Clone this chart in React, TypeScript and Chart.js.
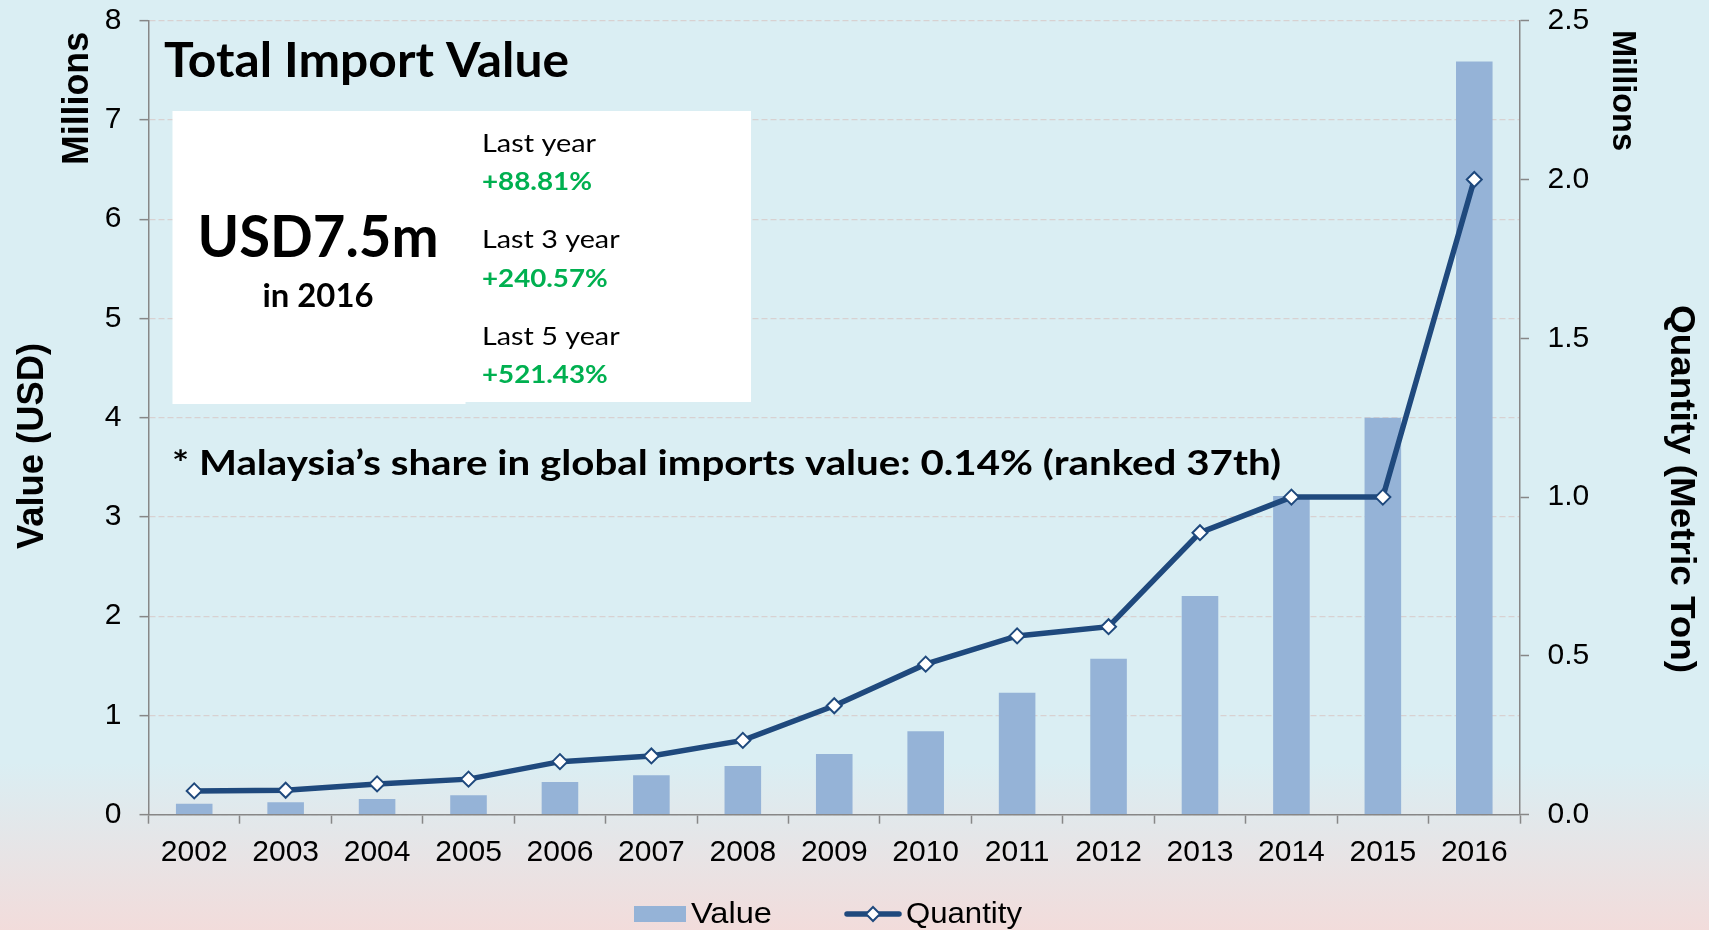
import React, { useEffect, useRef } from 'react';
import { Chart, registerables } from 'chart.js';

Chart.register(...registerables);

// ---------- data ----------
const years = ['2002', '2003', '2004', '2005', '2006', '2007', '2008', '2009', '2010', '2011', '2012', '2013', '2014', '2015', '2016'];
const valueUSDMillions = [0.11, 0.125, 0.158, 0.196, 0.33, 0.397, 0.49, 0.612, 0.84, 1.228, 1.571, 2.204, 3.21, 4.0, 7.59];
const quantityMillionTon = [0.075, 0.077, 0.097, 0.112, 0.167, 0.185, 0.234, 0.343, 0.474, 0.563, 0.592, 0.888, 1.0, 1.0, 2.0];
const seriesNames = ['Value', 'Quantity'];
const leftAxisMax = 8;
const rightAxisMax = 2.5;
const rightAxisStep = 0.5;

const titleText = 'Total Import Value';
const headlineText = 'USD7.5m';
const headlineSub = 'in 2016';
const changeLabels = ['Last year', 'Last 3 year', 'Last 5 year'];
const changeValues = ['+88.81%', '+240.57%', '+521.43%'];
const noteText = '* Malaysia\u2019s share in global imports value: 0.14% (ranked 37th)';
const leftAxisTitle = 'Value (USD)';
const rightAxisTitle = 'Quantity (Metric Ton)';
const unitsLabel = 'Millions';

// ---------- styles ----------
const BAR_COLOR = '#95B3D7';
const LINE_COLOR = '#1F497D';
const AXIS_COLOR = '#878787';
const GRID_COLOR = '#D8D1D1';
const GREEN = '#00B050';
const ARIAL = '"Liberation Sans", Arial, sans-serif';
const CALIBRI = 'Lato, "Open Sans", sans-serif';

function fitText(
  ctx: CanvasRenderingContext2D,
  text: string,
  x: number,
  y: number,
  font: string,
  color: string,
  width: number,
  align: 'left' | 'center' = 'left',
  rotation = 0
) {
  ctx.save();
  ctx.font = font;
  ctx.fillStyle = color;
  ctx.textBaseline = 'alphabetic';
  ctx.textAlign = 'left';
  const w = ctx.measureText(text).width;
  const sx = width / w;
  ctx.translate(x, y);
  if (rotation) ctx.rotate(rotation);
  ctx.scale(sx, 1);
  ctx.fillText(text, align === 'center' ? -w / 2 : 0, 0);
  ctx.restore();
}

const annotationPlugin = {
  id: 'annotations',
  afterDraw(chart: any) {
    const ctx: CanvasRenderingContext2D = chart.ctx;
    // white info box
    ctx.save();
    ctx.fillStyle = '#FFFFFF';
    ctx.fillRect(172.5, 111, 293, 293);
    ctx.fillRect(465, 111, 286, 291);
    ctx.restore();

    fitText(ctx, titleText, 164, 77, `bold 47px ${CALIBRI}`, '#000', 405);
    fitText(ctx, headlineText, 318, 256.5, `bold 58px ${CALIBRI}`, '#000', 241, 'center');
    fitText(ctx, headlineSub, 318, 307, `bold 32px ${CALIBRI}`, '#000', 111, 'center');

    const labelW = [114, 137.6, 137.6];
    const valW = [110, 125.7, 125.7];
    for (let i = 0; i < changeLabels.length; i++) {
      const base = 151.7 + i * 96.6;
      fitText(ctx, changeLabels[i], 482, base, `25px ${CALIBRI}`, '#000', labelW[i]);
      fitText(ctx, changeValues[i], 482, base + 38.3, `bold 25px ${CALIBRI}`, GREEN, valW[i]);
    }

    fitText(ctx, noteText, 172, 475, `bold 35px ${CALIBRI}`, '#000', 1109);

    // axis titles
    fitText(ctx, unitsLabel, 88, 98.5, `bold 36px ${ARIAL}`, '#000', 133, 'center', -Math.PI / 2);
    fitText(ctx, leftAxisTitle, 42.7, 446, `bold 36px ${ARIAL}`, '#000', 206, 'center', -Math.PI / 2);
    fitText(ctx, unitsLabel, 1613, 90.5, `bold 33px ${ARIAL}`, '#000', 121, 'center', Math.PI / 2);
    fitText(ctx, rightAxisTitle, 1671, 489, `bold 35px ${ARIAL}`, '#000', 368, 'center', Math.PI / 2);

    // legend
    ctx.save();
    ctx.fillStyle = BAR_COLOR;
    ctx.fillRect(634, 906, 52, 16);
    ctx.restore();
    fitText(ctx, seriesNames[0], 691, 923, `30px ${ARIAL}`, '#000', 81);

    ctx.save();
    ctx.strokeStyle = LINE_COLOR;
    ctx.lineWidth = 5.5;
    ctx.lineCap = 'round';
    ctx.beginPath();
    ctx.moveTo(847, 914);
    ctx.lineTo(899, 914);
    ctx.stroke();
    ctx.beginPath();
    const cx = 873, cy = 914, r = 7;
    ctx.moveTo(cx, cy - r);
    ctx.lineTo(cx + r, cy);
    ctx.lineTo(cx, cy + r);
    ctx.lineTo(cx - r, cy);
    ctx.closePath();
    ctx.fillStyle = '#FFFFFF';
    ctx.fill();
    ctx.lineWidth = 2;
    ctx.lineCap = 'butt';
    ctx.stroke();
    ctx.restore();
    fitText(ctx, seriesNames[1], 906, 923, `30px ${ARIAL}`, '#000', 116);
  },
};

export default function App() {
  const ref = useRef<HTMLCanvasElement>(null);

  useEffect(() => {
    const canvas = ref.current;
    if (!canvas) return;
    const chart = new Chart(canvas, {
      type: 'bar',
      data: {
        labels: years,
        datasets: [
          {
            type: 'line',
            label: seriesNames[1],
            data: quantityMillionTon,
            yAxisID: 'y2',
            order: 0,
            borderColor: LINE_COLOR,
            borderWidth: 5.5,
            tension: 0,
            pointStyle: 'rectRot',
            pointRadius: 7.5,
            pointBackgroundColor: '#FFFFFF',
            pointBorderColor: LINE_COLOR,
            pointBorderWidth: 2,
          } as any,
          {
            type: 'bar',
            label: seriesNames[0],
            data: valueUSDMillions,
            yAxisID: 'y',
            order: 1,
            backgroundColor: BAR_COLOR,
            borderWidth: 0,
            barPercentage: 0.4,
            categoryPercentage: 1,
          } as any,
        ],
      },
      options: {
        responsive: false,
        animation: false,
        events: [],
        layout: { padding: { top: 20.7, left: 0, right: 0, bottom: 0 } },
        plugins: {
          legend: { display: false },
          tooltip: { enabled: false },
          title: { display: false },
        },
        scales: {
          x: {
            type: 'category',
            offset: true,
            ticks: {
              color: '#000',
              font: { family: ARIAL, size: 30 },
              padding: 11,
              maxRotation: 0,
              autoSkip: false,
            },
            grid: {
              offset: true,
              drawOnChartArea: false,
              tickLength: 9,
              color: AXIS_COLOR,
              tickColor: AXIS_COLOR,
              tickWidth: 1.5,
            },
            border: { color: AXIS_COLOR, width: 1.5 },
            afterFit: (s: any) => {
              s.height = 115.3;
              s.paddingLeft = 0;
              s.paddingRight = 0;
            },
          },
          y: {
            type: 'linear',
            position: 'left',
            min: 0,
            max: leftAxisMax,
            ticks: {
              stepSize: 1,
              color: '#000',
              font: { family: ARIAL, size: 30 },
              padding: 18,
            },
            grid: {
              color: GRID_COLOR,
              lineWidth: 1.3,
              tickLength: 9,
              tickColor: AXIS_COLOR,
              tickWidth: 1.5,
            },
            border: { color: AXIS_COLOR, width: 1.5, dash: [6, 3] },
            afterFit: (s: any) => {
              s.width = 148.5;
              s.paddingTop = 0;
              s.paddingBottom = 0;
            },
          },
          y2: {
            type: 'linear',
            position: 'right',
            min: 0,
            max: rightAxisMax,
            ticks: {
              stepSize: rightAxisStep,
              color: '#000',
              font: { family: ARIAL, size: 30 },
              padding: 18.5,
              callback: (v: any) => Number(v).toFixed(1),
            },
            grid: {
              drawOnChartArea: false,
              tickLength: 9,
              color: AXIS_COLOR,
              tickColor: AXIS_COLOR,
              tickWidth: 1.5,
            },
            border: { color: AXIS_COLOR, width: 1.5 },
            afterFit: (s: any) => {
              s.width = 189;
              s.paddingTop = 0;
              s.paddingBottom = 0;
            },
          },
        },
      } as any,
      plugins: [annotationPlugin],
    });
    return () => chart.destroy();
  }, []);

  return (
    <div
      style={{
        position: 'fixed',
        left: 0,
        top: 0,
        width: 1709,
        height: 930,
        background: 'linear-gradient(to bottom, #DAEEF3 0%, #DAEEF3 82%, #F2DCDB 100%)',
      }}
    >
      <canvas ref={ref} width={1709} height={930} style={{ display: 'block' }} />
    </div>
  );
}
